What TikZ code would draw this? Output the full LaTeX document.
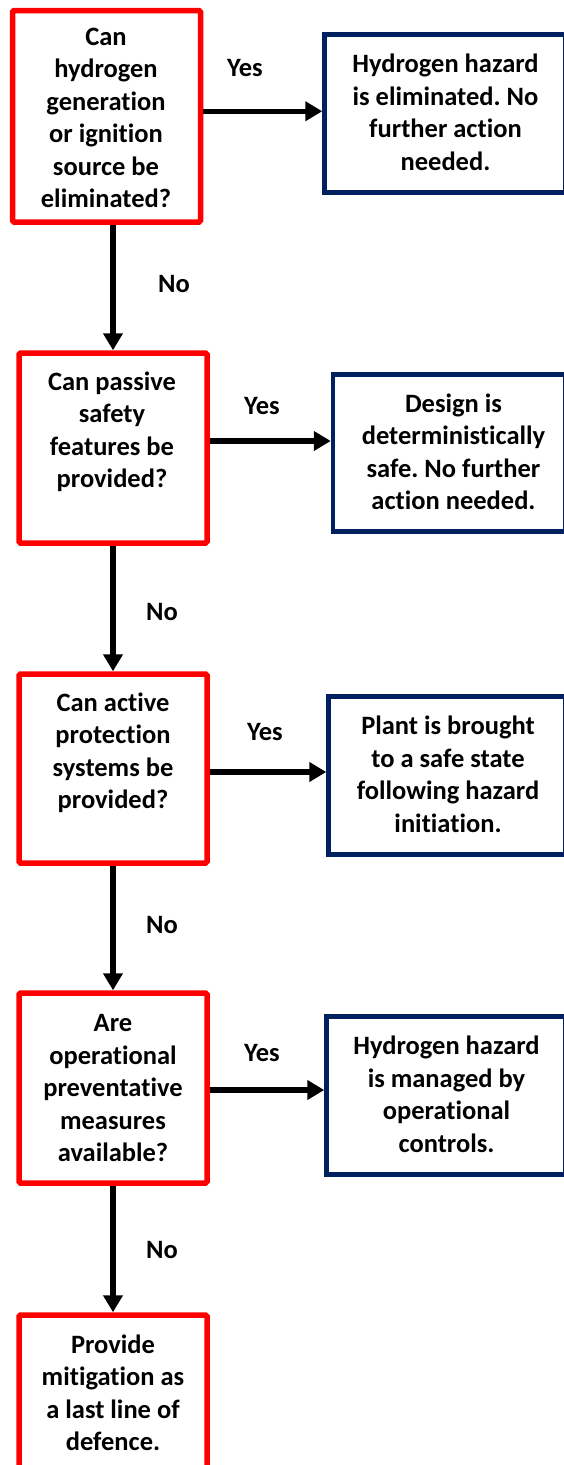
\documentclass[tikz,border=0pt]{standalone}
\usepackage{fontspec}
\setmainfont{Carlito}[Ligatures=NoCommon]
\frenchspacing
\usetikzlibrary{arrows.meta}
\definecolor{qred}{HTML}{FF0000}
\definecolor{anavy}{HTML}{002060}
\begin{document}
\begin{tikzpicture}[x=1pt,y=-1pt,
  every node/.style={font=\fontsize{26.5}{32.5}\selectfont\bfseries},
  qbox/.style={draw=qred,line width=5.5pt,rounded corners=1.5pt,fill=white,inner sep=0pt},
  abox/.style={draw=anavy,line width=4.5pt,fill=white,inner sep=0pt},
  txt/.style={align=center,inner sep=0pt},
  lbl/.style={inner sep=0pt},
  arr/.style={line width=5.5pt,-{Triangle[length=17pt,width=19pt]}}]
\useasboundingbox (0,0) rectangle (563,1465);

% question boxes (left column)
\node[qbox,minimum width=188pt,minimum height=211.5pt] (q1) at (106.5,116.25) {};
\node[qbox,minimum width=188pt,minimum height=190pt] (q2) at (113,448) {};
\node[qbox,minimum width=188pt,minimum height=189pt] (q3) at (113,768.5) {};
\node[qbox,minimum width=188pt,minimum height=190pt] (q4) at (113,1088) {};
\node[qbox,minimum width=188pt,minimum height=170pt] (q5) at (113,1400) {};

% outcome boxes (right column)
\node[abox,minimum width=240.5pt,minimum height=158pt] (a1) at (444.75,113.5) {};
\node[abox,minimum width=232pt,minimum height=157pt] (a2) at (449,453) {};
\node[abox,minimum width=236.5pt,minimum height=158pt] (a3) at (446.75,775.5) {};
\node[abox,minimum width=238.5pt,minimum height=158pt] (a4) at (445.75,1095.5) {};

% texts
\node[txt] (q1t) at (106,118) {Can\\hydrogen\\generation\\or ignition\\source be\\eliminated?};
\node[txt] (q2t) at (112,432) {Can passive\\safety\\features be\\provided?};
\node[txt] (q3t) at (113,753) {Can active\\protection\\systems be\\provided?};
\node[txt] (q4t) at (113,1088) {Are\\operational\\preventative\\measures\\available?};
\node[txt] (q5t) at (113,1393) {Provide\\mitigation as\\a last line of\\defence.};

\node[txt] (a1t) at (445.5,112.5) {Hydrogen hazard\\is eliminated. No\\further action\\needed.};
\node[txt] (a2t) at (453.5,452) {Design is\\deterministically\\safe. No further\\action needed.};
\node[txt] (a3t) at (448,774.5) {Plant is brought\\to a safe state\\following hazard\\initiation.};
\node[txt] (a4t) at (446.5,1094.5) {Hydrogen hazard\\is managed by\\operational\\controls.};

% branch labels
\node[lbl] (y1) at (245,68) {Yes};
\node[lbl] (y2) at (262,406) {Yes};
\node[lbl] (y3) at (265,732) {Yes};
\node[lbl] (y4) at (262,1053) {Yes};
\node[lbl] (n1) at (174,284) {No};
\node[lbl] (n2) at (162,612) {No};
\node[lbl] (n3) at (162,925) {No};
\node[lbl] (n4) at (162,1250) {No};

% "Yes" connectors
\path ([yshift=5pt]q1.east) coordinate (s1);
\path ([yshift=7pt]q2.east) coordinate (s2);
\path ([yshift=-3.5pt]q3.east) coordinate (s3);
\path ([yshift=-2pt]q4.east) coordinate (s4);
\draw[arr] (s1) -- (s1 -| a1.west);
\draw[arr] (s2) -- (s2 -| a2.west);
\draw[arr] (s3) -- (s3 -| a3.west);
\draw[arr] (s4) -- (s4 -| a4.west);

% "No" connectors
\draw[arr] (q1.south -| q2.north) -- (q2.north);
\draw[arr] (q2.south) -- (q3.north);
\draw[arr] (q3.south) -- (q4.north);
\draw[arr] (q4.south) -- (q5.north);
\end{tikzpicture}
\end{document}
